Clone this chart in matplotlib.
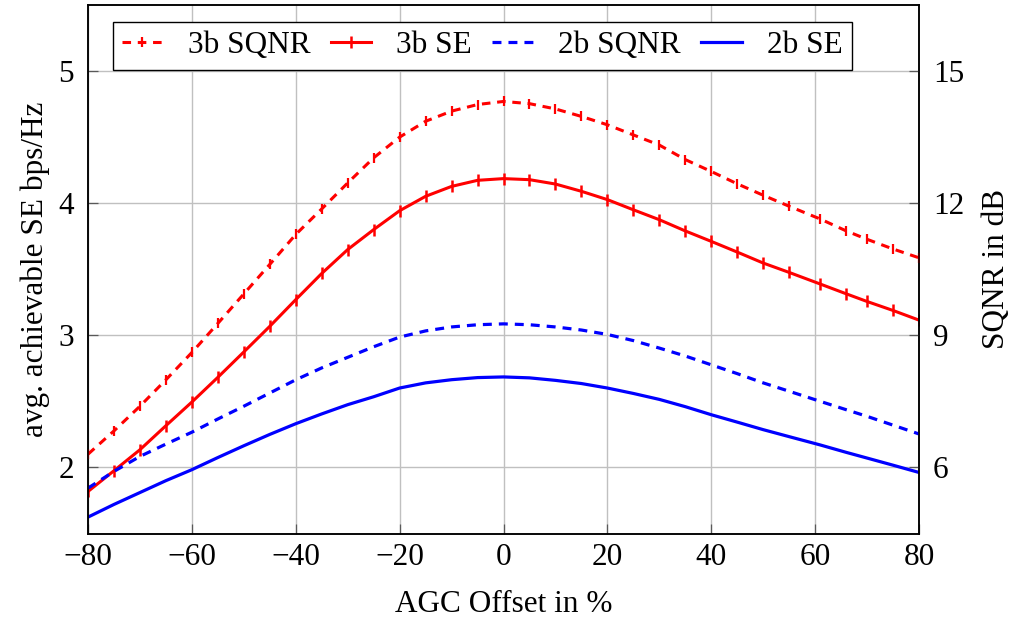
import matplotlib
matplotlib.use("Agg")
import matplotlib.pyplot as plt

plt.rcParams["font.family"] = ["Liberation Serif", "DejaVu Serif"]

# AGC offset in percent
agc_offset = [-80, -75, -70, -65, -60, -55, -50, -45, -40, -35, -30, -25, -20,
              -15, -10, -5, 0, 5, 10, 15, 20, 25, 30, 35, 40, 45, 50, 55,
              61, 66, 70, 75, 80]

# 3-bit quantizer: SQNR (dB) and achievable spectral efficiency (bps/Hz)
sqnr_3b = [6.30, 6.83, 7.39, 7.99, 8.61, 9.27, 9.94, 10.61, 11.29, 11.87, 12.46,
           13.03, 13.50, 13.86, 14.09, 14.24, 14.31, 14.26, 14.14, 13.97, 13.78,
           13.55, 13.32, 12.99, 12.72, 12.44, 12.18, 11.93, 11.64, 11.37, 11.18,
           10.96, 10.76]
se_3b = [1.818, 1.975, 2.134, 2.316, 2.495, 2.682, 2.874, 3.068, 3.270, 3.468,
         3.649, 3.800, 3.943, 4.052, 4.127, 4.173, 4.186, 4.178, 4.145, 4.090,
         4.027, 3.950, 3.875, 3.790, 3.711, 3.630, 3.547, 3.476, 3.388, 3.314,
         3.256, 3.188, 3.115]

# 2-bit quantizer
sqnr_2b = [5.53, 5.91, 6.25, 6.53, 6.80, 7.10, 7.39, 7.69, 7.99, 8.26, 8.50,
           8.74, 8.96, 9.10, 9.19, 9.24, 9.26, 9.24, 9.19, 9.12, 9.02, 8.88,
           8.71, 8.53, 8.33, 8.13, 7.92, 7.73, 7.50, 7.31, 7.16, 6.96, 6.76]
se_2b = [1.624, 1.720, 1.810, 1.900, 1.983, 2.075, 2.164, 2.250, 2.331, 2.405,
         2.475, 2.535, 2.601, 2.640, 2.664, 2.680, 2.685, 2.678, 2.659, 2.635,
         2.601, 2.560, 2.515, 2.460, 2.399, 2.343, 2.286, 2.233, 2.170, 2.114,
         2.071, 2.017, 1.962]

x_ticks = [-80, -60, -40, -20, 0, 20, 40, 60, 80]
se_ticks = [2, 3, 4, 5]
sqnr_ticks = [6, 9, 12, 15]
legend_labels = ["3b SQNR", "3b SE", "2b SQNR", "2b SE"]

FS = 22.5
W, H = 1014, 621
fig = plt.figure(figsize=(W / 100, H / 100), dpi=100)
left, right, top, bottom = 88, 919, 5, 533.5
ax1 = fig.add_axes([left / W, 1 - bottom / H, (right - left) / W, (bottom - top) / H])
ax2 = ax1.twinx()

ax1.set_xlim(-80, 80)
ax1.set_ylim(1.5, 5.5)
ax2.set_ylim(4.5, 16.5)
ax1.set_xticks(x_ticks)
ax1.set_yticks(se_ticks)
ax2.set_yticks(sqnr_ticks)
ax1.grid(True, color="#c0c0c0", lw=1.0)
ax1.set_axisbelow(True)

for ax in (ax1, ax2):
    ax.tick_params(direction="in", length=7, width=0.9, color="0.35",
                   labelsize=FS, labelcolor="black")
    for s in ax.spines.values():
        s.set_linewidth(1.1)
        s.set_color("black")
ax1.tick_params(axis="x", pad=7)
ax1.tick_params(axis="y", pad=10)
ax2.tick_params(axis="y", pad=10)

dash = (0, (2.8, 2.2))
l1, = ax2.plot(agc_offset, sqnr_3b, color="red", lw=2.2, ls=dash,
               marker="|", ms=7, mew=1.6)
l2, = ax1.plot(agc_offset, se_3b, color="red", lw=2.2,
               marker="|", ms=9, mew=1.8)
l3, = ax2.plot(agc_offset, sqnr_2b, color="blue", lw=2.3, ls=dash)
l4, = ax1.plot(agc_offset, se_2b, color="blue", lw=2.3)

ax1.set_xlabel("AGC Offset in %", fontsize=FS, labelpad=13)
ax1.set_ylabel("avg. achievable SE bps/Hz", fontsize=FS, labelpad=6)
ax2.set_ylabel("SQNR in dB", fontsize=FS, labelpad=13)

leg = ax2.legend([l1, l2, l3, l4], legend_labels, ncol=4, loc="upper left",
                 bbox_to_anchor=(112.7 / W, 1 - 22 / H),
                 bbox_transform=fig.transFigure, borderaxespad=0,
                 frameon=True, fancybox=False, edgecolor="black", framealpha=1,
                 handlelength=1.3, handletextpad=0.8, columnspacing=0.65,
                 borderpad=0.3, fontsize=FS)
leg.get_frame().set_linewidth(1.0)

fig.savefig("out.png", dpi=100)
